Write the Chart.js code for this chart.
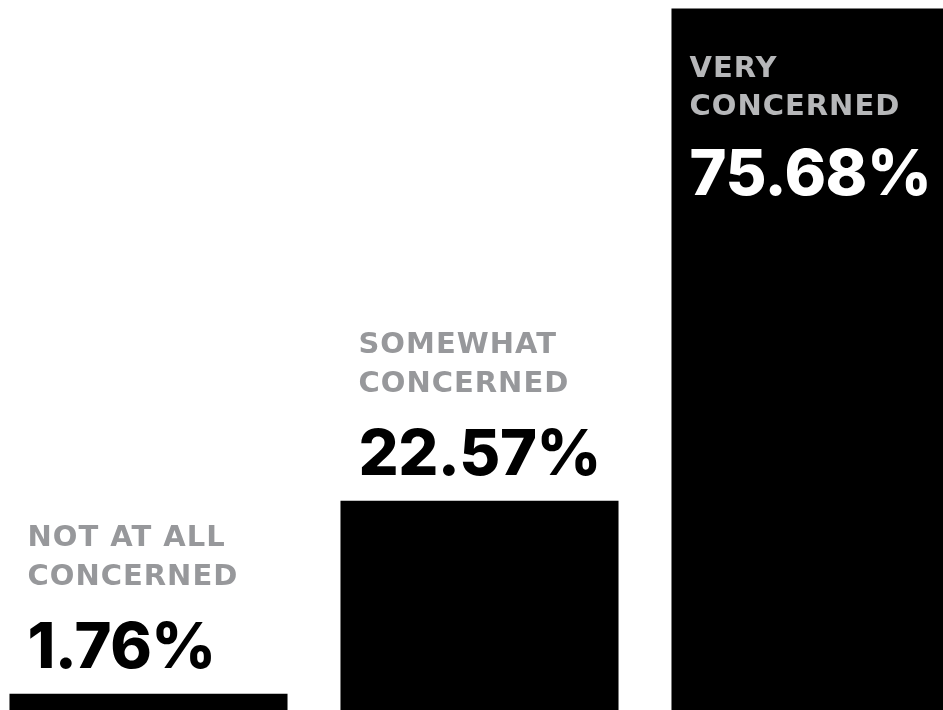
<!DOCTYPE html>
<html>
<head>
<meta charset="utf-8">
<script src="https://cdn.jsdelivr.net/npm/chart.js@4/dist/chart.umd.min.js"></script>
<style>
  html, body { margin: 0; padding: 0; background: #fff; overflow: hidden; }
  #wrap { position: absolute; left: -17px; top: 0; width: 993px; height: 710px; }
</style>
</head>
<body>
<div id="wrap"><canvas id="concernChart"></canvas></div>
<script>
  const categories = [["NOT AT ALL", "CONCERNED"], ["SOMEWHAT", "CONCERNED"], ["VERY", "CONCERNED"]];
  const shares = [1.76, 22.57, 75.68];
  const Y_MAX = 76.6;

  const LABEL_FONT = "bold 29px 'DejaVu Sans'";
  const VALUE_FONT = "800 63px Inter";

  // writes category name + percentage above each bar, or inside it when there is no room
  const barLabels = {
    id: "barLabels",
    afterDatasetsDraw(chart) {
      const ctx = chart.ctx;
      const meta = chart.getDatasetMeta(0);
      meta.data.forEach((bar, i) => {
        const left = bar.x - bar.width / 2 + 18;
        const top = bar.y;
        const inside = top - 190 < chart.chartArea.top;
        let line1, line2, valueY;
        if (inside) {
          line1 = top + 68; line2 = top + 106; valueY = top + 186;
        } else {
          line1 = top - 148; line2 = top - 109; valueY = top - 26;
        }
        ctx.save();
        ctx.textAlign = "left";
        ctx.textBaseline = "alphabetic";
        ctx.font = LABEL_FONT;
        ctx.letterSpacing = "1px";
        ctx.fillStyle = inside ? "#b6b7b9" : "#97989b";
        ctx.fillText(categories[i][0], left, line1);
        ctx.fillText(categories[i][1], left, line2);
        ctx.font = VALUE_FONT;
        ctx.letterSpacing = "-0.5px";
        ctx.fillStyle = inside ? "#ffffff" : "#000000";
        ctx.fillText(shares[i].toFixed(2) + "%", left, valueY);
        ctx.restore();
      });
    }
  };

  new Chart(document.getElementById("concernChart"), {
    type: "bar",
    data: {
      labels: categories.map(c => c.join(" ")),
      datasets: [{
        data: shares,
        backgroundColor: "#000000",
        borderWidth: 0,
        barPercentage: 0.84,
        categoryPercentage: 1.0
      }]
    },
    options: {
      responsive: true,
      maintainAspectRatio: false,
      animation: false,
      layout: { padding: 0 },
      plugins: { legend: { display: false }, tooltip: { enabled: false } },
      scales: {
        x: { display: false },
        y: { display: false, min: 0, max: Y_MAX }
      }
    },
    plugins: [barLabels]
  });
</script>
</body>
</html>
